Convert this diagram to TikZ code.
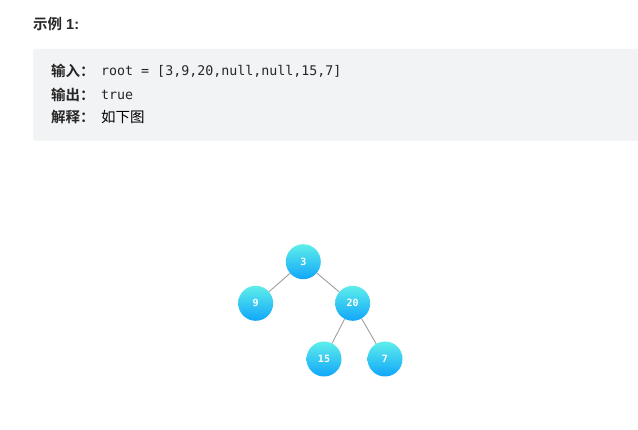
\documentclass[tikz,border=0pt]{standalone}
\usepackage{fontspec}
\newfontfamily\cjk{Noto Sans CJK SC}
\newfontfamily\cjkb{Noto Sans CJK SC Bold}
\newfontfamily\mono{DejaVu Sans Mono}
\newfontfamily\sansb{Liberation Sans Bold}
\definecolor{boxbg}{HTML}{F2F3F5}
\definecolor{topc}{HTML}{5EEEEA}
\definecolor{botc}{HTML}{10A6FA}
\definecolor{edgec}{HTML}{A0A0A0}
\definecolor{txt}{HTML}{262626}
\tikzset{
  tn/.style={circle, minimum size=35pt, inner sep=0pt, top color=topc, bottom color=botc, text=white, font=\mono\fontsize{10}{10}\selectfont\bfseries},
  ed/.style={draw=edgec, line width=0.9pt},
  lab/.style={anchor=west, inner sep=0pt, text=txt, font=\cjkb\fontsize{14.5}{14}\selectfont},
  code/.style={anchor=west, inner sep=0pt, text=txt, font=\mono\fontsize{13.3}{14}\selectfont},
}
\begin{document}
\begin{tikzpicture}[x=1pt,y=-1pt]
\useasboundingbox[fill=white] (0,0) rectangle (638,430);
\node[anchor=west, inner sep=0pt, text=txt, font=\sansb\fontsize{14.5}{14}\selectfont] (title) at (33,24) {{\cjkb 示例} 1:};
\path[fill=boxbg, rounded corners=3pt] (33,49) rectangle (645,141);
\node[lab] (l1) at (51,71) {输入：};
\node[code] (c1) at (101,71) {root = [3,9,20,null,null,15,7]};
\node[lab] (l2) at (51,95) {输出：};
\node[code] (c2) at (101,95) {true};
\node[lab] (l3) at (51,117) {解释：};
\node[anchor=west, inner sep=0pt, text=black, font=\cjk\fontsize{14.5}{14}\selectfont] (c3) at (101,117) {如下图};
\node[tn] (n3) at (303.3,261.7) {3};
\node[tn] (n9) at (255.7,303.3) {9};
\node[tn] (n20) at (352.7,303.3) {20};
\node[tn] (n15) at (324,359) {15};
\node[tn] (n7) at (385,359) {7};
\draw[ed] (n3) -- (n9);
\draw[ed] (n3) -- (n20);
\draw[ed] (n20) -- (n15);
\draw[ed] (n20) -- (n7);
\end{tikzpicture}
\end{document}
